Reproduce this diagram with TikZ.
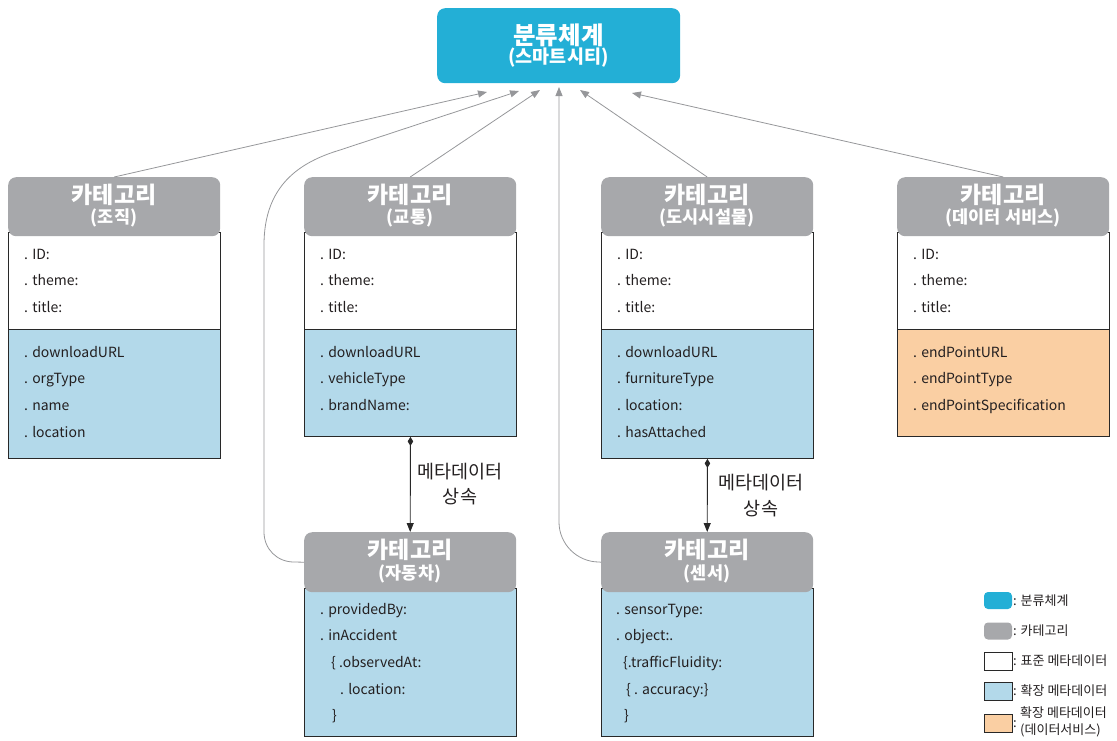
\documentclass[tikz,border=0pt]{standalone}
\usepackage{fontspec}
\setmainfont{Noto Sans CJK KR}
\usetikzlibrary{arrows.meta}
\definecolor{topblue}{RGB}{35,175,214}
\definecolor{hdrgray}{RGB}{167,168,171}
\definecolor{extblue}{RGB}{179,217,234}
\definecolor{extorange}{RGB}{250,207,163}
\definecolor{arrowgray}{RGB}{150,151,154}
\definecolor{textdark}{RGB}{35,31,32}
\definecolor{boxline}{RGB}{40,40,40}
\tikzset{
  topbox/.style={fill=topblue, rounded corners=8pt, minimum width=243pt, minimum height=75pt, inner sep=0pt, anchor=north west},
  hdr/.style={fill=hdrgray, rounded corners=8pt, minimum width=212pt, minimum height=59pt, inner sep=0pt, anchor=north west},
  stdbody/.style={draw=boxline, line width=0.9pt, fill=white, minimum width=212pt, inner sep=0pt, anchor=north west},
  extbody/.style={stdbody, fill=extblue},
  orbody/.style={stdbody, fill=extorange},
  ttl/.style={text=white, inner sep=0pt, font=\fontsize{23}{26}\selectfont\bfseries},
  sub/.style={text=white, inner sep=0pt, font=\fontsize{17.5}{20}\selectfont\bfseries},
  attr/.style={text=textdark, inner sep=0pt, anchor=base west, font=\fontsize{14}{17}\selectfont},
  conn/.style={draw=arrowgray, line width=0.8pt, -{Triangle[length=9pt,width=7pt]}},
  comp/.style={draw=boxline, line width=0.9pt, {Diamond[length=9pt,width=5.5pt]}-{Triangle[length=9pt,width=7pt]}},
  lbl/.style={text=textdark, align=center, inner sep=0pt, font=\fontsize{18.5}{25.5}\selectfont},
  legtxt/.style={text=textdark, inner sep=0pt, anchor=west, font=\fontsize{13}{15}\selectfont},
}
\newcommand\attrlines[4]{%
  \foreach \t [count=\i] in {#4}
    \node[attr] (#1-\i) at (#2,{#3+26.7*(\i-1)}) {\t};}
\begin{document}
\begin{tikzpicture}[x=1pt,y=-1pt]
\useasboundingbox (0,0) rectangle (1117,740);

% top taxonomy box
\node[topbox] (tax) at (437,8) {};
\node[text=white, inner sep=0pt, font=\fontsize{24.5}{27}\selectfont\bfseries] (tax-t1) at (558.5,35) {분류체계};
\node[text=white, inner sep=0pt, font=\fontsize{18.5}{21}\selectfont\bfseries] (tax-t2) at (558.5,58) {(스마트시티)};

\coordinate (tax-in1) at (487,92);
\coordinate (tax-in2) at (519,91);
\coordinate (tax-in3) at (540,90);
\coordinate (tax-in4) at (559,87);
\coordinate (tax-in5) at (580,90);
\coordinate (tax-in6) at (632,93);

% bodies (drawn first)
\node[stdbody, minimum height=97pt] (orgS) at (8,232) {};
\node[extbody, minimum height=129pt] (orgE) at (8,329) {};
\node[stdbody, minimum height=97pt] (traS) at (304,232) {};
\node[extbody, minimum height=107pt] (traE) at (304,329) {};
\node[stdbody, minimum height=97pt] (facS) at (601,232) {};
\node[extbody, minimum height=129pt] (facE) at (601,329) {};
\node[stdbody, minimum height=97pt] (dsS) at (897,232) {};
\node[orbody, minimum height=107pt] (dsE) at (897,329) {};
\node[extbody, minimum height=148pt] (carE) at (304,588) {};
\node[extbody, minimum height=148pt] (senE) at (601,588) {};

% headers
\node[hdr] (orgH) at (8,177) {};
\node[hdr] (traH) at (304,177) {};
\node[hdr] (facH) at (601,177) {};
\node[hdr] (dsH) at (897,177) {};
\node[hdr, minimum height=60pt] (carH) at (304,532) {};
\node[hdr, minimum height=60pt] (senH) at (601,532) {};

\node[ttl] (orgH-t1) at (114,195) {카테고리};
\node[sub] (orgH-t2) at (114,218) {(조직)};
\node[ttl] (traH-t1) at (410,195) {카테고리};
\node[sub] (traH-t2) at (410,218) {(교통)};
\node[ttl] (facH-t1) at (707,195) {카테고리};
\node[sub] (facH-t2) at (707,218) {(도시시설물)};
\node[ttl] (dsH-t1) at (1003,195) {카테고리};
\node[sub] (dsH-t2) at (1003,218) {(데이터 서비스)};
\node[ttl] (carH-t1) at (410,550) {카테고리};
\node[sub] (carH-t2) at (410,574) {(자동차)};
\node[ttl] (senH-t1) at (707,550) {카테고리};
\node[sub] (senH-t2) at (707,574) {(센서)};

% attributes
\attrlines{orgS}{24}{259}{{. ID:},{. theme:},{. title:}}
\attrlines{orgE}{24}{357}{{. downloadURL},{. orgType},{. name},{. location}}
\attrlines{traS}{320}{259}{{. ID:},{. theme:},{. title:}}
\attrlines{traE}{320}{357}{{. downloadURL},{. vehicleType},{. brandName:}}
\attrlines{facS}{617}{259}{{. ID:},{. theme:},{. title:}}
\attrlines{facE}{617}{357}{{. downloadURL},{. furnitureType},{. location:},{. hasAttached}}
\attrlines{dsS}{913}{259}{{. ID:},{. theme:},{. title:}}
\attrlines{dsE}{913}{357}{{. endPointURL},{. endPointType},{. endPointSpecification}}
\attrlines{carE}{320}{614}{{. providedBy:},{. inAccident},{\hspace*{11pt}\{ .observedAt:},{\hspace*{20pt}. location:},{\hspace*{12pt}\}}}
\attrlines{senE}{616}{614}{{. sensorType:},{. object:.},{\hspace*{7pt}\{.trafficFluidity:},{\hspace*{10pt}\{ . accuracy:\}},{\hspace*{8pt}\}}}

% connectors to taxonomy
\draw[conn] (orgH.north) -- (tax-in1);
\draw[conn] (traH.north) -- (tax-in3);
\draw[conn] (facH.north) -- (tax-in5);
\draw[conn] (dsH.north) -- (tax-in6);
\draw[conn] (carH.west) -- (294,562) .. controls (277,562) and (264,549) .. (264,532) -- (264,245) .. controls (264,185) and (300,162) .. (340,150) -- (tax-in2);
\draw[conn] (senH.west) -- (599,562) .. controls (577,562) and (559,544) .. (559,522) -- (tax-in4);

% metadata inheritance
\draw[comp] (traE.south) -- (carH.north);
\draw[comp] (facE.south) -- (senH.north);
\node[lbl] (inh1) at (460,484) {메타데이터\\상속};
\node[lbl] (inh2) at (761,495.5) {메타데이터\\상속};

% legend
\node[fill=topblue, rounded corners=4pt, minimum width=28pt, minimum height=17pt, inner sep=0pt] (lg1) at (998,600.5) {};
\node[fill=hdrgray, rounded corners=4pt, minimum width=28pt, minimum height=17pt, inner sep=0pt] (lg2) at (998,631) {};
\node[draw=boxline, line width=0.7pt, fill=white, minimum width=28pt, minimum height=18pt, inner sep=0pt] (lg3) at (998,661) {};
\node[draw=boxline, line width=0.7pt, fill=extblue, minimum width=28pt, minimum height=18pt, inner sep=0pt] (lg4) at (998,691) {};
\node[draw=boxline, line width=0.7pt, fill=extorange, minimum width=28pt, minimum height=18pt, inner sep=0pt] (lg5) at (998,723) {};
\node[legtxt] (lg1-t) at (1013,600.5) {: 분류체계};
\node[legtxt] (lg2-t) at (1013,631) {: 카테고리};
\node[legtxt] (lg3-t) at (1013,661) {: 표준 메타데이터};
\node[legtxt] (lg4-t) at (1013,691) {: 확장 메타데이터};
\node[legtxt] (lg5-c) at (1013,724) {:};
\node[legtxt] (lg5-t1) at (1020,713) {확장 메타데이터};
\node[legtxt] (lg5-t2) at (1020,730) {(데이터서비스)};
\end{tikzpicture}
\end{document}
